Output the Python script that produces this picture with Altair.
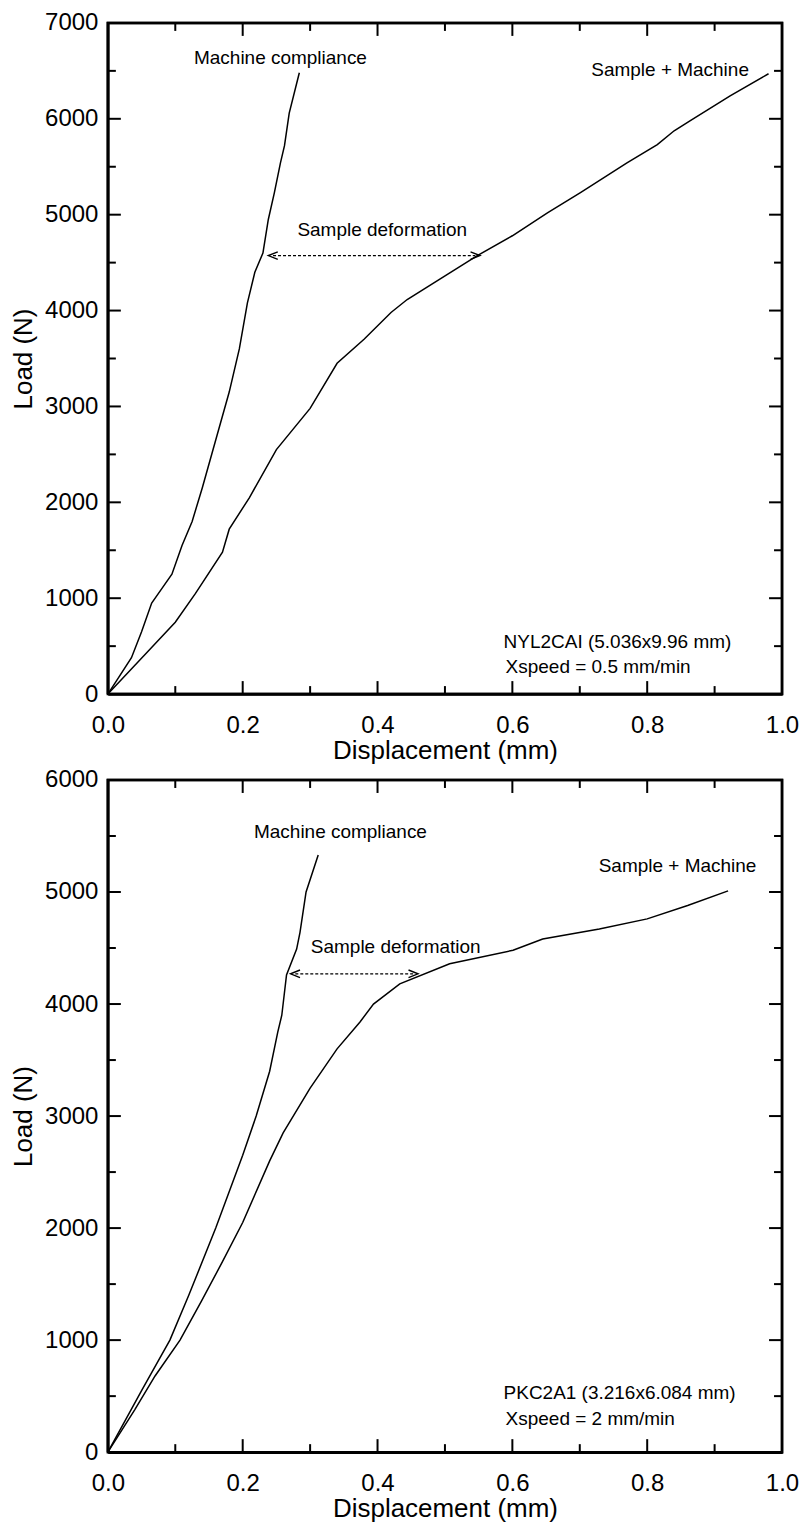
import altair as alt
import pandas as pd

FONT = "Liberation Sans"

# ---------------- Panel 1 (NYL2CAI) ----------------
mc1_x = [0.0, 0.035, 0.05, 0.065, 0.08, 0.095, 0.11, 0.125, 0.14, 0.16, 0.18, 0.195,
         0.207, 0.218, 0.23, 0.238, 0.247, 0.256, 0.262, 0.269, 0.284]
mc1_y = [0, 380, 650, 950, 1100, 1250, 1550, 1800, 2150, 2650, 3150, 3600,
         4080, 4400, 4600, 4950, 5230, 5540, 5720, 6060, 6480]
sm1_x = [0.0, 0.06, 0.1, 0.13, 0.17, 0.18, 0.21, 0.25, 0.3, 0.34, 0.38, 0.42, 0.444,
         0.548, 0.6, 0.652, 0.701, 0.77, 0.815, 0.84, 0.864, 0.923, 0.98]
sm1_y = [0, 450, 750, 1050, 1480, 1720, 2050, 2550, 2980, 3450, 3700, 3980, 4115,
         4573, 4780, 5020, 5230, 5540, 5730, 5875, 5980, 6240, 6470]
ymax1 = 7000
y_major1 = [1000, 2000, 3000, 4000, 5000, 6000]
y_minor1 = [500, 1500, 2500, 3500, 4500, 5500, 6500]
y_labels1 = [0, 1000, 2000, 3000, 4000, 5000, 6000, 7000]
arrow1 = {"x1": 0.245, "x2": 0.545, "y": 4573}
notes1_text = ["Machine compliance", "Sample + Machine", "Sample deformation"]
notes1_x = [0.256, 0.834, 0.407]
notes1_y = [6635, 6510, 4844]
info1_text = ["NYL2CAI (5.036x9.96 mm)", "Xspeed = 0.5 mm/min"]
info1_x = [0.587, 0.590]
info1_y = [542, 281]

# ---------------- Panel 2 (PKC2A1) ----------------
mc2_x = [0.0, 0.05, 0.092, 0.12, 0.16, 0.2, 0.22, 0.24, 0.252, 0.258, 0.265, 0.28,
         0.285, 0.294, 0.312]
mc2_y = [0, 550, 1000, 1400, 2000, 2650, 3000, 3400, 3750, 3900, 4260, 4490,
         4640, 5000, 5330]
sm2_x = [0.0, 0.04, 0.07, 0.107, 0.139, 0.17, 0.2, 0.24, 0.26, 0.3, 0.34, 0.374,
         0.394, 0.433, 0.507, 0.601, 0.645, 0.729, 0.8, 0.86, 0.92]
sm2_y = [0, 380, 680, 1000, 1350, 1700, 2050, 2600, 2850, 3250, 3600, 3840,
         4000, 4180, 4360, 4480, 4580, 4670, 4760, 4880, 5010]
ymax2 = 6000
y_major2 = [1000, 2000, 3000, 4000, 5000]
y_minor2 = [500, 1500, 2500, 3500, 4500, 5500]
y_labels2 = [0, 1000, 2000, 3000, 4000, 5000, 6000]
arrow2 = {"x1": 0.278, "x2": 0.453, "y": 4270}
notes2_text = ["Machine compliance", "Sample + Machine", "Sample deformation"]
notes2_x = [0.345, 0.845, 0.427]
notes2_y = [5535, 5230, 4510]
info2_text = ["PKC2A1 (3.216x6.084 mm)", "Xspeed = 2 mm/min"]
info2_x = [0.587, 0.590]
info2_y = [525, 292]

x_labels = [0.0, 0.2, 0.4, 0.6, 0.8, 1.0]
x_major = [0.2, 0.4, 0.6, 0.8]
x_minor = [0.1, 0.3, 0.5, 0.7, 0.9]

MAJOR_PX = 13
MINOR_PX = 8


def panel(mc_x, mc_y, sm_x, sm_y, ymax, y_labels, y_major, y_minor, arrow,
          notes_text, notes_x, notes_y, info_text, info_x, info_y, w, h):
    xs = alt.Scale(domain=[0, 1], nice=False, zero=False)
    ys = alt.Scale(domain=[0, ymax], nice=False, zero=False)

    main_x = alt.Axis(orient="bottom", values=x_labels, format=".1f", ticks=False,
                      domain=True, domainColor="black", domainWidth=2.5,
                      grid=False, labelPadding=19, labelFlush=False,
                      labelFontSize=24, labelFont=FONT, labelColor="black",
                      title="Displacement (mm)", titleFont=FONT, titleFontSize=26,
                      titleFontWeight="normal", titleColor="black", titlePadding=0)
    main_y = alt.Axis(orient="left", values=y_labels, format="d", ticks=False,
                      domain=True, domainColor="black", domainWidth=2.5,
                      grid=False, labelPadding=10, labelFlush=False,
                      labelFontSize=24, labelFont=FONT, labelColor="black",
                      title="Load (N)", titleFont=FONT, titleFontSize=26,
                      titleFontWeight="normal", titleColor="black", titlePadding=8)

    X = lambda f: alt.X(f, type="quantitative", scale=xs, axis=main_x)
    Y = lambda f: alt.Y(f, type="quantitative", scale=ys, axis=main_y)

    df_mc = pd.DataFrame({"x": mc_x, "y": mc_y})
    df_sm = pd.DataFrame({"x": sm_x, "y": sm_y})
    l_mc = alt.Chart(df_mc).mark_line(color="black", strokeWidth=1.5).encode(
        x=X("x"), y=Y("y"))
    l_sm = alt.Chart(df_sm).mark_line(color="black", strokeWidth=1.5).encode(
        x=X("x"), y=Y("y"))

    # inward ticks on all four sides (pixel lengths converted to data units)
    xmaj, xmin_ = MAJOR_PX / w, MINOR_PX / w
    ymaj, ymin_ = MAJOR_PX / h * ymax, MINOR_PX / h * ymax
    rows = []
    for v in x_major:
        rows.append({"a": v, "a2": v, "b": 0, "b2": ymaj})
        rows.append({"a": v, "a2": v, "b": ymax - ymaj, "b2": ymax})
    for v in x_minor:
        rows.append({"a": v, "a2": v, "b": 0, "b2": ymin_})
        rows.append({"a": v, "a2": v, "b": ymax - ymin_, "b2": ymax})
    for v in y_major:
        rows.append({"a": 0, "a2": xmaj, "b": v, "b2": v})
        rows.append({"a": 1 - xmaj, "a2": 1, "b": v, "b2": v})
    for v in y_minor:
        rows.append({"a": 0, "a2": xmin_, "b": v, "b2": v})
        rows.append({"a": 1 - xmin_, "a2": 1, "b": v, "b2": v})
    df_ticks = pd.DataFrame(rows)
    ticks = alt.Chart(df_ticks).mark_rule(color="black", strokeWidth=2).encode(
        x=X("a"), x2="a2", y=Y("b"), y2="b2")

    # plot frame as a closed path through the four domain corners
    df_frame = pd.DataFrame({"x": [0.0, 1.0, 1.0, 0.0, 0.0],
                             "y": [0, 0, ymax, ymax, 0],
                             "o": [0, 1, 2, 3, 4]})
    frame = alt.Chart(df_frame).mark_line(color="black", strokeWidth=2.5,
                                          strokeJoin="miter").encode(
        x=X("x"), y=Y("y"), order="o:Q")

    df_notes = pd.DataFrame({"x": notes_x, "y": notes_y, "t": notes_text})
    t_notes = alt.Chart(df_notes).mark_text(font=FONT, fontSize=19, color="black",
                                            align="center", baseline="middle").encode(
        x=X("x"), y=Y("y"), text="t:N")
    df_info = pd.DataFrame({"x": info_x, "y": info_y, "t": info_text})
    t_info = alt.Chart(df_info).mark_text(font=FONT, fontSize=19, color="black",
                                          align="left", baseline="middle").encode(
        x=X("x"), y=Y("y"), text="t:N")

    df_arrow = pd.DataFrame({"x1": [arrow["x1"]], "x2": [arrow["x2"]], "y": [arrow["y"]]})
    a_line = alt.Chart(df_arrow).mark_rule(color="black", strokeWidth=1.3,
                                           strokeDash=[3, 2]).encode(
        x=X("x1"), x2="x2", y=Y("y"))
    a_left = alt.Chart(df_arrow).mark_point(shape="M1,-0.8L-1,0L1,0.8", filled=False,
                                            color="black", strokeWidth=1.4, size=90,
                                            opacity=1).encode(x=X("x1"), y=Y("y"))
    a_right = alt.Chart(df_arrow).mark_point(shape="M-1,-0.8L1,0L-1,0.8", filled=False,
                                             color="black", strokeWidth=1.4, size=90,
                                             opacity=1).encode(x=X("x2"), y=Y("y"))

    return alt.layer(l_mc, l_sm, ticks, frame, t_notes, t_info, a_line, a_left,
                     a_right).properties(width=w, height=h)


p1 = panel(mc1_x, mc1_y, sm1_x, sm1_y, ymax1, y_labels1, y_major1, y_minor1, arrow1,
           notes1_text, notes1_x, notes1_y, info1_text, info1_x, info1_y, 675, 672)
p2 = panel(mc2_x, mc2_y, sm2_x, sm2_y, ymax2, y_labels2, y_major2, y_minor2, arrow2,
           notes2_text, notes2_x, notes2_y, info2_text, info2_x, info2_y, 675, 673)

chart = alt.vconcat(p1, p2, spacing=86, bounds="flush").properties(
    padding={"left": 9, "top": 8, "right": 5, "bottom": 5},
    background="white"
).configure_view(stroke="black", strokeWidth=2.5)

chart.save("out.html", embed_options={"renderer": "svg", "actions": False})
